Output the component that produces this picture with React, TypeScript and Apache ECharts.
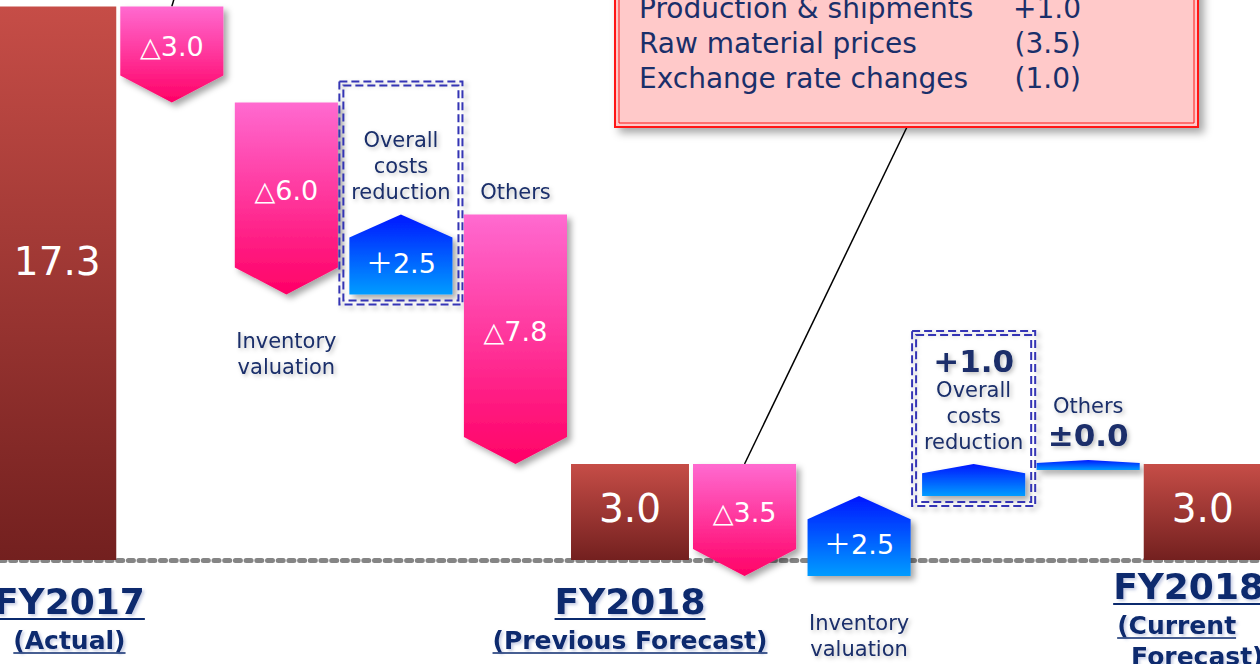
import React, { useEffect, useRef } from 'react';
import * as echarts from 'echarts';

// ---- data ----
const categories = [
  'FY2017 (Actual)', 'Other factors', 'Inventory valuation', 'Overall costs reduction', 'Others',
  'FY2018 (Previous Forecast)', 'Other factors', 'Inventory valuation', 'Overall costs reduction', 'Others',
  'FY2018 (Current Forecast)',
];
const kinds = ['total', 'delta', 'delta', 'delta', 'delta', 'total', 'delta', 'delta', 'delta', 'delta', 'total'];
const values = [17.3, -3.0, -6.0, 2.5, -7.8, 3.0, -3.5, 2.5, 1.0, 0.0, 3.0];
const titleLines = ['FY2017', '', '', '', '', 'FY2018', '', '', '', '', 'FY2018'];
const subtitleLines = [['(Actual)'], [], [], [], [], ['(Previous Forecast)'], [], [], [], [], ['(Current', ' Forecast)']];
const noteTexts = ['', '', 'Inventory\nvaluation', 'Overall\ncosts\nreduction', 'Others', '', '', 'Inventory\nvaluation', 'Overall\ncosts\nreduction', 'Others', ''];
const notePlaces = ['', '', 'below', 'above', 'above', '', '', 'below', 'above', 'above', ''];
const valueInside = [true, true, true, true, true, true, true, true, false, false, true];
const boxed = [false, false, false, true, false, false, false, false, true, false, false];
const calloutFrom = [false, true, false, false, false, false, true, false, false, false, false];
const calloutLabels = ['Production & shipments', 'Raw material prices', 'Exchange rate changes'];
const calloutValues = ['+1.0', '(3.5)', '(1.0)'];

const FONT = '"DejaVu Sans", Verdana, "Noto Sans CJK JP", sans-serif';
const NAVY = '#0b2a6e';
const NOTE = '#1a2f6a';
const W = 1260;

// running waterfall
const rows: number[][] = [];
{
  let run = 0;
  values.forEach((v, i) => {
    if (kinds[i] === 'total') {
      rows.push([i, 0, v]);
      run = v;
    } else {
      rows.push([i, run, run + v]);
      run = run + v;
    }
  });
}

function fmtInside(i: number) {
  const v = values[i];
  if (kinds[i] === 'total') return v.toFixed(1);
  if (v < 0) return '\u25B3' + Math.abs(v).toFixed(1);
  return '\uFF0B' + v.toFixed(1);
}
function fmtOutside(i: number) {
  const v = values[i];
  if (v === 0) return '\u00B1' + v.toFixed(1);
  if (v > 0) return '+' + v.toFixed(1);
  return '(' + Math.abs(v).toFixed(1) + ')';
}

let measureCtx: CanvasRenderingContext2D | null = null;
function measure(text: string, font: string) {
  if (!measureCtx) measureCtx = document.createElement('canvas').getContext('2d');
  if (!measureCtx) return text.length * 14;
  measureCtx.font = font;
  return measureCtx.measureText(text).width;
}

const shadow = { shadowBlur: 6, shadowColor: 'rgba(0,0,0,0.35)', shadowOffsetX: 4, shadowOffsetY: 4 };
const textShadow = { textShadowColor: 'rgba(0,0,0,0.25)', textShadowBlur: 4, textShadowOffsetX: 2, textShadowOffsetY: 2 };
const labelShadow = { textShadowColor: 'rgba(90,110,180,0.35)', textShadowBlur: 3, textShadowOffsetX: 2, textShadowOffsetY: 2 };

const grad = (a: string, b: string) =>
  new echarts.graphic.LinearGradient(0, 0, 0, 1, [
    { offset: 0, color: a },
    { offset: 1, color: b },
  ]);

function renderItem(params: any, api: any) {
  const i = api.value(0);
  const start = api.value(1);
  const end = api.value(2);
  const band = api.size([1, 0])[0];
  const p0 = api.coord([i, start]);
  const p1 = api.coord([i, end]);
  const zeroY = api.coord([i, 0])[1];
  const cx = p0[0];
  const y0 = p0[1];
  const y1 = p1[1];
  const v = values[i];
  const children: any[] = [];
  let shapeTop = Math.min(y0, y1);
  let shapeBottom = Math.max(y0, y1);
  let left = 0;
  let right = 0;

  if (kinds[i] === 'total') {
    const w = band * 1.03;
    left = cx - w / 2;
    right = cx + w / 2;
    children.push({
      type: 'rect',
      shape: { x: left, y: shapeTop, width: w, height: shapeBottom - shapeTop },
      style: { fill: grad('#c64d47', '#73201f') },
    });
    children.push({
      type: 'text',
      x: cx,
      y: (shapeTop + shapeBottom) / 2 - (shapeBottom - shapeTop) * 0.04,
      style: { text: fmtInside(i), fill: '#ffffff', fontSize: 39, fontFamily: FONT, align: 'center', verticalAlign: 'middle' },
    });
    // category labels
    const subs = subtitleLines[i];
    const multi = subs.length > 1;
    const shift = Math.max(0, subs.length - 1) * 15;
    const mainY = zeroY + 41 - shift;
    const mainFont = `bold 36px ${FONT}`;
    const mw = measure(titleLines[i], mainFont);
    const mcx = Math.min(Math.max(cx, mw / 2 - 6), W + 4 - mw / 2);
    const mainLeft = mcx - mw / 2;
    children.push({
      type: 'text',
      x: mcx,
      y: mainY,
      style: { text: titleLines[i], fill: NAVY, fontSize: 36, fontWeight: 'bold', fontFamily: FONT, align: 'center', verticalAlign: 'middle', ...labelShadow },
    });
    children.push({ type: 'line', shape: { x1: mainLeft, y1: mainY + 18, x2: mainLeft + mw, y2: mainY + 18 }, style: { stroke: NAVY, lineWidth: 2 } });
    subs.forEach((raw, j) => {
      const sy = zeroY + 80 - shift + j * 31;
      const sf = `bold 25px ${FONT}`;
      const s = raw.trim();
      const indent = measure(raw.slice(0, raw.length - raw.trimStart().length), sf) * 1.6;
      const sw = measure(s, sf);
      const sx = multi ? mainLeft + 4 + indent : mcx - sw / 2;
      children.push({
        type: 'text',
        x: sx,
        y: sy,
        style: { text: s, fill: NAVY, fontSize: 25, fontWeight: 'bold', fontFamily: FONT, align: 'left', verticalAlign: 'middle', ...labelShadow },
      });
      children.push({ type: 'line', shape: { x1: sx, y1: sy + 13, x2: sx + sw, y2: sy + 13 }, style: { stroke: NAVY, lineWidth: 1.5 } });
    });
  } else {
    const w = band * 0.9;
    left = cx - w / 2;
    right = cx + w / 2;
    if (v < 0) {
      const ph = Math.min(27, 0.29 * (y1 - y0));
      children.push({
        type: 'polygon',
        shape: { points: [[left, y0], [right, y0], [right, y1 - ph], [cx, y1], [left, y1 - ph]] },
        style: { fill: grad('#ff6ad0', '#ff0066'), ...shadow },
      });
      if (valueInside[i]) {
        children.push({
          type: 'text',
          x: cx,
          y: (y0 + y1 - ph) / 2 + 6,
          style: { text: fmtInside(i), fill: '#ffffff', fontSize: 27, fontFamily: FONT, align: 'center', verticalAlign: 'middle' },
        });
      }
    } else if (v > 0) {
      const ph = Math.min(27, 0.29 * (y0 - y1));
      children.push({
        type: 'polygon',
        shape: { points: [[left, y0], [right, y0], [right, y1 + ph], [cx, y1], [left, y1 + ph]] },
        style: { fill: grad('#0016ff', '#009cff'), ...shadow },
      });
      if (valueInside[i]) {
        children.push({
          type: 'text',
          x: cx,
          y: (y0 + y1 + ph) / 2 - 3,
          style: { text: fmtInside(i), fill: '#ffffff', fontSize: 27, fontFamily: FONT, align: 'center', verticalAlign: 'middle' },
        });
      }
    } else {
      shapeTop = y1 - 4;
      shapeBottom = y1 + 6;
      children.push({
        type: 'polygon',
        shape: { points: [[left, y1 + 6], [right, y1 + 6], [right, y1 - 1], [cx, y1 - 4], [left, y1 - 1]] },
        style: { fill: grad('#0016ff', '#009cff'), ...shadow },
      });
    }
  }

  // annotation notes
  if (noteTexts[i]) {
    const lines = noteTexts[i].split('\n').map((l) => `{n|${l}}`);
    if (!valueInside[i]) {
      const b = `{b|${fmtOutside(i)}}`;
      if (values[i] === 0) lines.push(b);
      else lines.unshift(b);
    }
    const below = notePlaces[i] === 'below';
    children.push({
      type: 'text',
      x: cx,
      y: below ? shapeBottom + 34 : shapeTop - 9,
      style: {
        text: lines.join('\n'),
        align: 'center',
        verticalAlign: below ? 'top' : 'bottom',
        rich: {
          n: { fontSize: 21, fontFamily: FONT, fill: NOTE, color: NOTE, lineHeight: 26, align: 'center', ...textShadow },
          b: { fontSize: 31, fontWeight: 'bold', fontFamily: FONT, fill: NOTE, color: NOTE, lineHeight: 32, align: 'center', ...textShadow },
        },
      },
    });
  }

  // dashed double box
  if (boxed[i]) {
    const bx = left - 10;
    const bw = right - left + 20;
    const by = shapeTop - 133;
    const bh = shapeBottom + 10 - by;
    const st = { fill: 'none', stroke: '#3434b4', lineWidth: 2, lineDash: [8, 4] };
    children.push({ type: 'rect', shape: { x: bx, y: by, width: bw, height: bh }, style: { ...st, shadowBlur: 5, shadowColor: 'rgba(0,0,0,0.3)', shadowOffsetX: 3, shadowOffsetY: 3 } });
    children.push({ type: 'rect', shape: { x: bx + 4, y: by + 4, width: bw - 8, height: bh - 8 }, style: st });
  }

  // callout leader lines
  if (calloutFrom[i]) {
    const target = i === 6 ? [907, 127] : [cx + 12, shapeTop - 40];
    children.push({
      type: 'line',
      z2: -1,
      shape: { x1: cx, y1: shapeTop, x2: target[0], y2: target[1] },
      style: { stroke: '#000000', lineWidth: 1.5 },
    });
  }

  return { type: 'group', children };
}

export default function App() {
  const ref = useRef<HTMLDivElement>(null);
  useEffect(() => {
    document.body.style.margin = '0';
    if (!ref.current) return;
    const chart = echarts.init(ref.current, undefined, { renderer: 'svg' });
    const graphics: any[] = [
      {
        type: 'rect',
        z: 10,
        shape: { x: 615, y: -60, width: 583, height: 187 },
        style: { fill: '#ffc9c9', stroke: '#ff1414', lineWidth: 2, shadowBlur: 8, shadowOffsetX: 5, shadowOffsetY: 5, shadowColor: 'rgba(0,0,0,0.35)' },
      },
      {
        type: 'rect',
        z: 11,
        shape: { x: 619, y: -56, width: 575, height: 179 },
        style: { fill: 'none', stroke: '#ff1414', lineWidth: 1 },
      },
    ];
    calloutLabels.forEach((t, j) => {
      graphics.push({
        type: 'text',
        z: 12,
        x: 639,
        y: 8 + j * 35,
        style: { text: t, fill: NOTE, fontSize: 28, fontFamily: FONT, align: 'left', verticalAlign: 'middle' },
      });
      graphics.push({
        type: 'text',
        z: 12,
        x: 1081,
        y: 8 + j * 35,
        style: { text: calloutValues[j], fill: NOTE, fontSize: 28, fontFamily: FONT, align: 'right', verticalAlign: 'middle' },
      });
    });

    chart.setOption({
      animation: false,
      backgroundColor: '#ffffff',
      grid: { left: 0, right: 0, top: 0, bottom: 0, containLabel: false },
      xAxis: {
        type: 'category',
        data: categories,
        axisLabel: { show: false },
        axisTick: { show: false },
        axisLine: { show: true, onZero: true, lineStyle: { color: '#858585', width: 5, type: [5, 5.7] } },
        splitLine: { show: false },
      },
      yAxis: {
        type: 'value',
        min: -3.25,
        max: 17.5,
        show: false,
        splitLine: { show: false },
      },
      series: [
        {
          type: 'custom',
          renderItem,
          encode: { x: 0, y: [1, 2] },
          data: rows,
          clip: false,
          z: 2,
        },
      ],
      graphic: graphics,
    });
    return () => chart.dispose();
  }, []);
  return <div ref={ref} style={{ position: 'absolute', left: 0, top: 0, width: 1260, height: 664 }} />;
}
